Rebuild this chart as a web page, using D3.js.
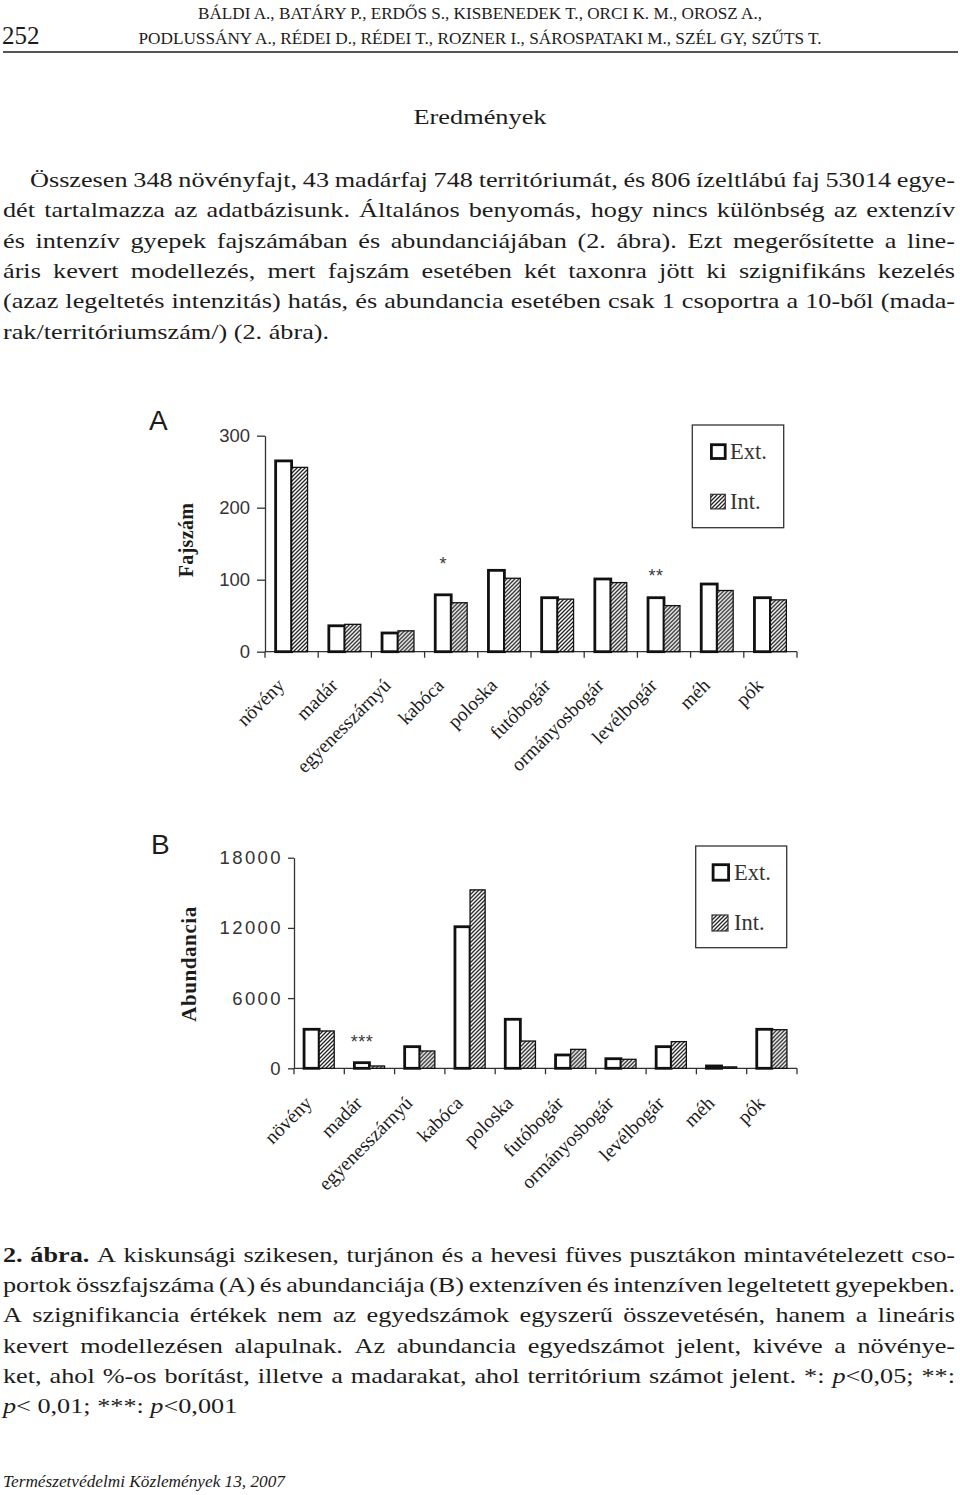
<!DOCTYPE html>
<html><head><meta charset="utf-8">
<script src="https://cdn.jsdelivr.net/npm/d3@7"></script>
<style>body{margin:0;background:#fff} svg{display:block}</style>
</head><body>
<svg id="page" width="960" height="1495"></svg>
<script>
// ---------------- DATA ----------------
const categories = ["növény","madár","egyenesszárnyú","kabóca","poloska","futóbogár","ormányosbogár","levélbogár","méh","pók"];
const seriesNames = ["Ext.","Int."];
const fajszamExt = [265, 36, 26, 79, 113, 75, 101, 75, 94, 75];
const fajszamInt = [256, 38, 29, 68, 102, 73, 96, 64, 85, 72];
const abundExt = [3335, 480, 1850, 12100, 4190, 1140, 820, 1850, 200, 3335];
const abundInt = [3190, 200, 1480, 15250, 2330, 1620, 770, 2280, 120, 3300];
const ticksA = [0, 100, 200, 300];
const ticksB = [0, 6000, 12000, 18000];
const sigA = ["", "", "", "*", "", "", "", "**", "", ""];
const sigALevel = [null, null, null, 127, null, null, null, 111, null, null];
const sigB = ["", "***", "", "", "", "", "", "", "", ""];
const sigBLevel = [null, 2590, null, null, null, null, null, null, null, null];

const headerLines = [
  "BÁLDI A., BATÁRY P., ERDŐS S., KISBENEDEK T., ORCI K. M., OROSZ A.,",
  "PODLUSSÁNY A., RÉDEI D., RÉDEI T., ROZNER I., SÁROSPATAKI M., SZÉL GY, SZŰTS T."
];
const pageNumber = "252";
const sectionTitle = "Eredmények";
const paragraphLines = [
  "Összesen 348 növényfajt, 43 madárfaj 748 territóriumát, és 806 ízeltlábú faj 53014 egye-",
  "dét tartalmazza az adatbázisunk. Általános benyomás, hogy nincs különbség az extenzív",
  "és intenzív gyepek fajszámában és abundanciájában (2. ábra). Ezt megerősítette a line-",
  "áris kevert modellezés, mert fajszám esetében két taxonra jött ki szignifikáns kezelés",
  "(azaz legeltetés intenzitás) hatás, és abundancia esetében csak 1 csoportra a 10-ből (mada-",
  "rak/territóriumszám/) (2. ábra)."
];
const captionLines = [
  "[b]2.[/b] [b]ábra.[/b] A kiskunsági szikesen, turjánon és a hevesi füves pusztákon mintavételezett cso-",
  "portok összfajszáma (A) és abundanciája (B) extenzíven és intenzíven legeltetett gyepekben.",
  "A szignifikancia értékek nem az egyedszámok egyszerű összevetésén, hanem a lineáris",
  "kevert modellezésen alapulnak. Az abundancia egyedszámot jelent, kivéve a növénye-",
  "ket, ahol %-os borítást, illetve a madarakat, ahol territórium számot jelent. *: [i]p[/i]<0,05; **:",
  "[i]p[/i]< 0,01; ***: [i]p[/i]<0,001"
];
const footerText = "Természetvédelmi Közlemények 13, 2007";

// ---------------- SETUP ----------------
const SERIF = "'Liberation Serif','Times New Roman',serif";
const SANS = "'Liberation Sans',Arial,sans-serif";
const INK = "#1c1c1c";
const svg = d3.select("#page");
svg.append("rect").attr("width", 960).attr("height", 1495).attr("fill", "#fff");

const defs = svg.append("defs");
const pat = defs.append("pattern").attr("id", "hatch")
  .attr("patternUnits", "userSpaceOnUse").attr("width", 4).attr("height", 4);
pat.append("rect").attr("width", 4).attr("height", 4).attr("fill", "#fff");
pat.append("path").attr("d", "M-1,1 l2,-2 M0,4 l4,-4 M3,5 l2,-2")
  .attr("stroke", "#222").attr("stroke-width", 1.3);

// ---------------- TEXT HELPERS ----------------
function parseSegs(word) {
  const out = [];
  const re = /\[(b|i)\](.*?)\[\/\1\]/g;
  let last = 0, m;
  while ((m = re.exec(word)) !== null) {
    if (m.index > last) out.push({ text: word.slice(last, m.index), style: "" });
    out.push({ text: m[2], style: m[1] });
    last = re.lastIndex;
  }
  if (last < word.length) out.push({ text: word.slice(last), style: "" });
  return out;
}
function drawLine(line, x, y, opt) {
  const g = svg.append("g").attr("transform", `translate(${x},${y}) scale(${opt.sx},1)`);
  const words = line.split(" ");
  const nodes = words.map(w => {
    const t = g.append("text").attr("font-family", SERIF).attr("font-size", opt.size).attr("fill", INK);
    parseSegs(w).forEach(s => {
      const ts = t.append("tspan").text(s.text);
      if (s.style === "b") ts.attr("font-weight", "bold");
      if (s.style === "i") ts.attr("font-style", "italic");
    });
    return t;
  });
  const widths = nodes.map(n => n.node().getComputedTextLength());
  const total = d3.sum(widths);
  let gap = opt.size * 0.25;
  if (opt.width && words.length > 1) gap = (opt.width / opt.sx - total) / (words.length - 1);
  let cx = 0;
  nodes.forEach((n, i) => { n.attr("x", cx); cx += widths[i] + gap; });
}

// ---------------- HEADER ----------------
svg.append("text").attr("x", 2).attr("y", 43.5).attr("font-family", SERIF)
  .attr("font-size", 25).attr("fill", INK).text(pageNumber);
const headerWidths = [564, 683];
headerLines.forEach((t, i) => {
  svg.append("text").attr("x", 480).attr("y", 18.5 + i * 25.5).attr("text-anchor", "middle")
    .attr("font-family", SERIF).attr("font-size", 16.5).attr("fill", INK)
    .attr("textLength", headerWidths[i]).attr("lengthAdjust", "spacingAndGlyphs").text(t);
});
svg.append("line").attr("x1", 3).attr("x2", 958).attr("y1", 52).attr("y2", 52)
  .attr("stroke", INK).attr("stroke-width", 1.5);

svg.append("text").attr("x", 480).attr("y", 124).attr("text-anchor", "middle")
  .attr("font-family", SERIF).attr("font-size", 21.5).attr("fill", INK)
  .attr("textLength", 133).attr("lengthAdjust", "spacingAndGlyphs").text(sectionTitle);

const SX = 1.22;
paragraphLines.forEach((t, i) => {
  const x = i === 0 ? 30 : 3;
  const last = i === paragraphLines.length - 1;
  drawLine(t, x, 187 + i * 30.3, { size: 21.5, sx: SX, width: last ? null : 955 - x });
});
captionLines.forEach((t, i) => {
  const last = i === captionLines.length - 1;
  drawLine(t, 3, 1262 + i * 30.2, { size: 21.5, sx: SX, width: last ? null : 952 });
});
svg.append("text").attr("x", 3).attr("y", 1487).attr("font-family", SERIF)
  .attr("font-style", "italic").attr("font-size", 17).attr("fill", INK)
  .attr("textLength", 282).attr("lengthAdjust", "spacingAndGlyphs").text(footerText);

// ---------------- CHARTS ----------------
function drawChart(c) {
  const g = svg.append("g");
  const x0 = d3.scaleBand().domain(categories).range([c.left, c.right]).padding(0);
  const bw = x0.bandwidth();
  const x1 = d3.scaleBand().domain(seriesNames).range([bw * 0.2, bw * 0.8]).padding(0);
  const y = d3.scaleLinear().domain([0, c.max]).range([c.bottom, c.top]);

  // y axis
  const yAxis = d3.axisLeft(y).tickValues(c.ticks).tickSize(c.tickLen).tickSizeOuter(0)
    .tickPadding(c.tickPad).tickFormat(d3.format("d"));
  const ya = g.append("g").attr("transform", `translate(${c.left},0)`).call(yAxis);
  ya.select(".domain").attr("stroke", "#333").attr("stroke-width", 1.3);
  ya.selectAll(".tick line").attr("stroke", "#333").attr("stroke-width", 1.3);
  ya.selectAll(".tick text").attr("font-family", SANS).attr("font-size", 18.5)
    .attr("fill", "#333").attr("letter-spacing", c.ls);

  // x axis line + boundary ticks
  const bounds = categories.map(d => x0(d)).concat([c.right]);
  g.append("line").attr("x1", c.left).attr("x2", c.right).attr("y1", c.bottom).attr("y2", c.bottom)
    .attr("stroke", "#333").attr("stroke-width", 1.3);
  g.selectAll(".xt").data(bounds).join("line")
    .attr("x1", d => d).attr("x2", d => d).attr("y1", c.bottom).attr("y2", c.bottom + 6)
    .attr("stroke", "#333").attr("stroke-width", 1.3);

  // bars
  const rows = categories.map((cat, i) => ({ cat, vals: [c.ext[i], c.int[i]] }));
  const grp = g.selectAll(".grp").data(rows).join("g").attr("transform", d => `translate(${x0(d.cat)},0)`);
  grp.selectAll("rect").data(d => d.vals.map((v, j) => ({ s: seriesNames[j], v }))).join("rect")
    .attr("x", d => x1(d.s)).attr("width", x1.bandwidth())
    .attr("y", d => y(d.v)).attr("height", d => c.bottom - y(d.v))
    .attr("fill", d => d.s === "Ext." ? "#fff" : "url(#hatch)")
    .attr("stroke", "#111").attr("stroke-width", d => d.s === "Ext." ? 2.8 : 1.3);

  // significance stars
  categories.forEach((cat, i) => {
    if (!c.sig[i]) return;
    g.append("text").attr("x", x0(cat) + x1("Ext.") + x1.bandwidth() / 2)
      .attr("y", y(c.sigLevel[i]) + 10).attr("text-anchor", "middle")
      .attr("font-family", SANS).attr("font-size", 18).attr("letter-spacing", 0.5).attr("fill", "#3a3a3a")
      .text(c.sig[i]);
  });

  // category labels
  g.selectAll(".cl").data(categories).join("text")
    .attr("transform", d => `translate(${x0(d) + bw / 2 + c.labDx},${c.bottom + c.labDy}) rotate(-45)`)
    .attr("text-anchor", "end").attr("font-family", SERIF).attr("font-size", 19.5).attr("fill", INK)
    .text(d => d);

  // panel letter & y title
  g.append("text").attr("x", c.labelX).attr("y", c.labelY).attr("font-family", SANS)
    .attr("font-size", 28).attr("fill", INK).text(c.label);
  g.append("text").attr("transform", `translate(${c.titleX},${c.titleY}) rotate(-90)`)
    .attr("text-anchor", "middle").attr("font-family", SERIF).attr("font-weight", "bold")
    .attr("font-size", c.titleSize).attr("letter-spacing", c.titleLs).attr("fill", INK).text(c.title);

  // legend
  const L = c.legend;
  g.append("rect").attr("x", L.x).attr("y", L.y).attr("width", L.w).attr("height", L.h)
    .attr("fill", "#fff").attr("stroke", "#333").attr("stroke-width", 1.3);
  g.append("rect").attr("x", L.ex).attr("y", L.ey).attr("width", L.es).attr("height", L.es)
    .attr("fill", "#fff").attr("stroke", "#111").attr("stroke-width", 2.8);
  g.append("rect").attr("x", L.ix).attr("y", L.iy).attr("width", L.is).attr("height", L.is)
    .attr("fill", "url(#hatch)").attr("stroke", "#333").attr("stroke-width", 1.2);
  [[seriesNames[0], L.eb], [seriesNames[1], L.ib]].forEach(([t, b]) => {
    g.append("text").attr("x", L.tx).attr("y", b).attr("font-family", SERIF).attr("font-size", 22.5)
      .attr("fill", "#333").text(t);
  });
}

drawChart({
  left: 265, right: 797, top: 435.7, bottom: 651.7, max: 300, ticks: ticksA,
  ext: fajszamExt, int: fajszamInt, sig: sigA, sigLevel: sigALevel,
  tickLen: 8, tickPad: 7, ls: 0,
  labDx: -6, labDy: 35,
  label: "A", labelX: 149, labelY: 430,
  title: "Fajszám", titleX: 193, titleY: 540, titleSize: 20, titleLs: 0.3,
  legend: { x: 692.3, y: 425, w: 91.4, h: 102.7, ex: 711.4, ey: 444.7, es: 13.8,
            ix: 710.7, iy: 494.3, is: 14.6, tx: 730, eb: 459, ib: 509 }
});
drawChart({
  left: 294, right: 797, top: 857.7, bottom: 1068.3, max: 18000, ticks: ticksB,
  ext: abundExt, int: abundInt, sig: sigB, sigLevel: sigBLevel,
  tickLen: 6, tickPad: 5, ls: 2.4,
  labDx: -6, labDy: 36,
  label: "B", labelX: 151, labelY: 854,
  title: "Abundancia", titleX: 196, titleY: 964, titleSize: 21, titleLs: 0.6,
  legend: { x: 695.7, y: 846, w: 91, h: 101.7, ex: 713.1, ey: 864.7, es: 15.5,
            ix: 712, iy: 915, is: 16, tx: 734, eb: 880, ib: 930 }
});
</script>
</body></html>
